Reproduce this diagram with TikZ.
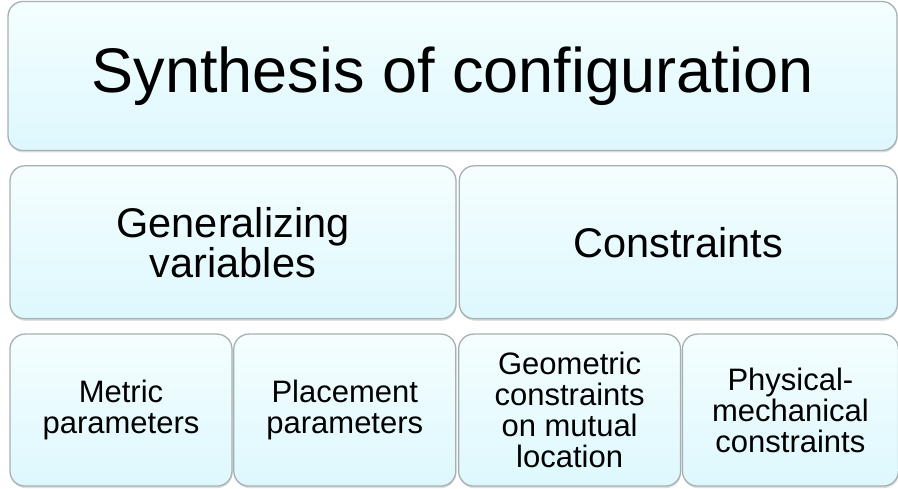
\documentclass[tikz,border=0pt]{standalone}
\usepackage{fontspec}
\setmainfont{Liberation Sans}
\usepackage{xcolor}
\usepackage{tikz}
\usetikzlibrary{positioning,shadows}
\definecolor{cellTop}{HTML}{F5FEFF}
\definecolor{cellBot}{HTML}{DDF8FD}
\definecolor{cellLine}{HTML}{A6B0B2}
\tikzset{
  cell/.style={draw=cellLine,line width=1.3pt,rounded corners=15pt,top color=cellTop,bottom color=cellBot,
    align=center,inner sep=4pt,drop shadow={shadow xshift=0.6pt,shadow yshift=-2pt,opacity=0.25}},
  huge/.style={font=\fontsize{63}{63}\selectfont},
  mid/.style={font=\fontsize{41.5}{40}\selectfont,minimum height=153pt},
  small/.style={font=\fontsize{31}{31}\selectfont,minimum height=152pt}
}
\begin{document}
\begin{tikzpicture}[x=1pt,y=1pt]
\useasboundingbox (0,0) rectangle (898,489);
\node[cell, huge, minimum width=889pt, minimum height=149pt] (synth) at (452.5,413) {Synthesis of configuration};
% second row
\node[cell, mid, minimum width=446pt, below right=14pt and 2pt of synth.south west] (gv) {Generalizing\\variables};
\node[cell, mid, minimum width=438pt, right=2pt of gv] (cons) {Constraints};
% third row
\node[cell, small, minimum width=222pt, below right=14pt and 0pt of gv.south west] (met) {Metric\\parameters};
\node[cell, small, minimum width=222pt, right=0.5pt of met] (pla) {Placement\\parameters};
\node[cell, small, minimum width=222pt, right=1.5pt of pla] (geo) {Geometric\\constraints\\on mutual\\location};
\node[cell, small, minimum width=216pt, right=0.5pt of geo] (phy) {Physical-\\mechanical\\constraints};
\end{tikzpicture}
\end{document}
